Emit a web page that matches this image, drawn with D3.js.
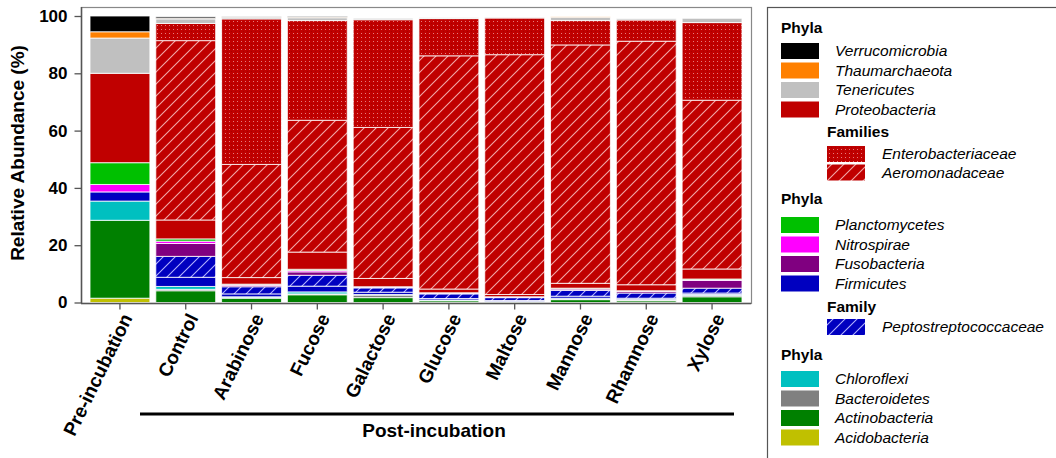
<!DOCTYPE html>
<html>
<head>
<meta charset="utf-8">
<script src="https://cdn.jsdelivr.net/npm/d3@7"></script>
<style>
  body { margin: 0; background: #fff; }
  text { font-family: "Liberation Sans", Arial, sans-serif; }
</style>
</head>
<body>
<div id="chart"></div>
<script>
const svgWidth = 1056;
const svgHeight = 458;

// samples on the x axis
const samples = ["Pre-incubation", "Control", "Arabinose", "Fucose", "Galactose",
    "Glucose", "Maltose", "Mannose", "Rhamnose", "Xylose"];

// relative abundance (%), one value per sample, stacked bottom -> top
const acidobacteria     = [1.5, 0, 0, 0, 0, 0, 0, 0, 0, 0];
const actinobacteria    = [27.2, 4.1, 1.5, 2.7, 1.7, 0.6, 0.2, 1.0, 0.6, 2.0];
const bacteroidetes     = [0, 0.5, 0.3, 0.3, 0.9, 0.2, 0.1, 0.3, 0.3, 0.5];
const chloroflexi       = [6.7, 1.0, 0.2, 0.7, 0.2, 0.1, 0.1, 0.2, 0.2, 0.3];
const firmicutes        = [3.2, 3.2, 1.0, 2.0, 0.8, 0.5, 0.3, 0.7, 0.4, 0.5];
const peptostrepto      = [0, 7.3, 2.5, 3.8, 1.5, 1.6, 1.0, 2.0, 1.8, 1.7];
const fusobacteria      = [0, 4.5, 0.5, 1.2, 0.2, 0.2, 0.1, 0.5, 0.6, 2.7];
const nitrospirae       = [2.6, 0.8, 0.2, 0.5, 0.1, 0.1, 0.1, 0.1, 0.1, 0.2];
const planctomycetes    = [7.6, 0.8, 0.2, 0.4, 0.1, 0.1, 0.1, 0.2, 0.1, 0.3];
const proteobacteria    = [31.2, 6.6, 2.3, 6.0, 2.9, 1.3, 0.8, 1.7, 2.1, 3.5];
const aeromonadaceae    = [0, 62.6, 39.5, 46.0, 52.7, 81.4, 83.7, 83.2, 85.0, 58.9];
const enterobacteriaceae = [0, 6.0, 50.8, 34.8, 37.6, 13.0, 12.8, 8.5, 7.4, 27.1];
const tenericutes       = [12.3, 1.6, 0.5, 1.0, 0.5, 0.3, 0.3, 1.2, 0.5, 1.5];
const thaumarchaeota    = [2.2, 0.2, 0.1, 0.2, 0, 0, 0, 0.1, 0, 0];
const verrucomicrobia   = [5.5, 0.5, 0.1, 0.3, 0, 0, 0, 0, 0, 0];

const yTicks = [0, 20, 40, 60, 80, 100];

const layers = [
    {key: "Acidobacteria", values: acidobacteria, fill: "#C0C000"},
    {key: "Actinobacteria", values: actinobacteria, fill: "#008000"},
    {key: "Bacteroidetes", values: bacteroidetes, fill: "#808080"},
    {key: "Chloroflexi", values: chloroflexi, fill: "#00C0C0"},
    {key: "Firmicutes", values: firmicutes, fill: "#0000C0"},
    {key: "Peptostreptococcaceae", values: peptostrepto, fill: "url(#hatchBlue)"},
    {key: "Fusobacteria", values: fusobacteria, fill: "#800080"},
    {key: "Nitrospirae", values: nitrospirae, fill: "#FF00FF"},
    {key: "Planctomycetes", values: planctomycetes, fill: "#00C000"},
    {key: "Proteobacteria", values: proteobacteria, fill: "#C00000"},
    {key: "Aeromonadaceae", values: aeromonadaceae, fill: "url(#hatchRed)"},
    {key: "Enterobacteriaceae", values: enterobacteriaceae, fill: "url(#dotRed)"},
    {key: "Tenericutes", values: tenericutes, fill: "#C0C0C0"},
    {key: "Thaumarchaeota", values: thaumarchaeota, fill: "#FF8000"},
    {key: "Verrucomicrobia", values: verrucomicrobia, fill: "#000000"}
];
const fillOf = {};
layers.forEach(l => fillOf[l.key] = l.fill);

const table = samples.map((s, i) => {
    const row = {sample: s};
    layers.forEach(l => row[l.key] = l.values[i]);
    return row;
});

const svg = d3.select('#chart')
    .append('svg')
    .attr('width', svgWidth)
    .attr('height', svgHeight);

// patterns
const defs = svg.append('defs');
const hatchRed = defs.append('pattern')
    .attr('id', 'hatchRed').attr('patternUnits', 'userSpaceOnUse')
    .attr('width', 12).attr('height', 12);
hatchRed.append('rect').attr('width', 12).attr('height', 12).attr('fill', '#C00000');
hatchRed.append('path').attr('d', 'M-3,3 L3,-3 M0,12 L12,0 M9,15 L15,9')
    .attr('stroke', '#f2a8a8').attr('stroke-width', 1.1);

const hatchBlue = defs.append('pattern')
    .attr('id', 'hatchBlue').attr('patternUnits', 'userSpaceOnUse')
    .attr('width', 12).attr('height', 12);
hatchBlue.append('rect').attr('width', 12).attr('height', 12).attr('fill', '#0000C0');
hatchBlue.append('path').attr('d', 'M-3,3 L3,-3 M0,12 L12,0 M9,15 L15,9')
    .attr('stroke', '#b0b0ff').attr('stroke-width', 1.1);

const dotRed = defs.append('pattern')
    .attr('id', 'dotRed').attr('patternUnits', 'userSpaceOnUse')
    .attr('width', 4).attr('height', 4);
dotRed.append('rect').attr('width', 4).attr('height', 4).attr('fill', '#C00000');
dotRed.append('rect').attr('x', 1).attr('y', 1).attr('width', 1).attr('height', 1).attr('fill', '#e67c7c');
dotRed.append('rect').attr('x', 3).attr('y', 3).attr('width', 1).attr('height', 1).attr('fill', '#a80000');

// scales
const plot = {left: 81, right: 751, top: 7, bottom: 303};
const x = d3.scaleBand().domain(samples)
    .range([plot.left, plot.right]).paddingInner(0.09).paddingOuter(0.137);
const y = d3.scaleLinear().domain([0, 100]).range([302.5, 16]);

// frame
svg.append('rect')
    .attr('x', plot.left + 0.5).attr('y', plot.top + 0.5)
    .attr('width', plot.right - plot.left).attr('height', plot.bottom - plot.top)
    .attr('fill', 'none').attr('stroke', '#888').attr('stroke-width', 1.2);

// bars
const stack = d3.stack().keys(layers.map(l => l.key));
const series = stack(table);

svg.append('g').selectAll('g')
    .data(series)
    .join('g')
    .attr('fill', d => fillOf[d.key])
    .selectAll('rect')
    .data(d => d)
    .join('rect')
    .attr('x', d => x(d.data.sample))
    .attr('width', x.bandwidth())
    .attr('y', d => y(d[1]))
    .attr('height', d => Math.max(0, y(d[0]) - y(d[1])))
    .attr('stroke', '#fff')
    .attr('stroke-opacity', 0.8)
    .attr('stroke-width', 1);

// axes
const yAxis = svg.append('g')
    .attr('transform', `translate(${plot.left + 0.5},0)`)
    .call(d3.axisLeft(y).tickValues(yTicks).tickSize(7).tickPadding(7));
yAxis.select('.domain').attr('stroke', '#555').attr('stroke-width', 1.5)
    .attr('d', `M0,${plot.top}V${plot.bottom}`);
yAxis.selectAll('.tick line').attr('stroke', '#555').attr('stroke-width', 1.3);
yAxis.selectAll('.tick text')
    .attr('font-size', 17).attr('font-weight', 'bold').attr('fill', '#000')
    .attr('font-family', '"Liberation Sans", Arial, sans-serif');

const xAxis = svg.append('g')
    .attr('transform', `translate(0,${plot.bottom + 0.5})`)
    .call(d3.axisBottom(x).tickSize(6).tickPadding(4));
xAxis.select('.domain').attr('stroke', '#555').attr('stroke-width', 1.5)
    .attr('d', `M${plot.left},0H${plot.right}`);
xAxis.selectAll('.tick line').attr('stroke', '#555').attr('stroke-width', 1.3);
xAxis.selectAll('.tick text')
    .attr('font-size', 19).attr('font-weight', 'bold').attr('fill', '#000')
    .attr('font-family', '"Liberation Sans", Arial, sans-serif')
    .attr('text-anchor', 'end')
    .attr('dy', '0.35em')
    .attr('transform', 'translate(-2,7) rotate(-64)');

// y title
svg.append('text')
    .attr('transform', 'translate(24,153) rotate(-90)')
    .attr('text-anchor', 'middle')
    .attr('font-size', 19).attr('font-weight', 'bold')
    .text('Relative Abundance (%)');

// post-incubation bracket
svg.append('line')
    .attr('x1', 140).attr('x2', 734)
    .attr('y1', 414).attr('y2', 414)
    .attr('stroke', '#000').attr('stroke-width', 3);
svg.append('text')
    .attr('x', 434).attr('y', 437)
    .attr('text-anchor', 'middle')
    .attr('font-size', 19).attr('font-weight', 'bold')
    .text('Post-incubation');

// legend
const legend = svg.append('g');
legend.append('rect')
    .attr('x', 767.5).attr('y', 7.5).attr('width', 320).attr('height', 470)
    .attr('fill', 'none').attr('stroke', '#555').attr('stroke-width', 1.2);

const legendRows = [
    {type: 'head', text: 'Phyla', x: 781, y: 28},
    {type: 'item', key: 'Verrucomicrobia', x: 781, y: 43},
    {type: 'item', key: 'Thaumarchaeota', x: 781, y: 62.5},
    {type: 'item', key: 'Tenericutes', x: 781, y: 82},
    {type: 'item', key: 'Proteobacteria', x: 781, y: 101.5},
    {type: 'head', text: 'Families', x: 827, y: 132},
    {type: 'item', key: 'Enterobacteriaceae', x: 827, y: 146},
    {type: 'item', key: 'Aeromonadaceae', x: 827, y: 164.5},
    {type: 'head', text: 'Phyla', x: 781, y: 199},
    {type: 'item', key: 'Planctomycetes', x: 781, y: 217},
    {type: 'item', key: 'Nitrospirae', x: 781, y: 236.5},
    {type: 'item', key: 'Fusobacteria', x: 781, y: 256},
    {type: 'item', key: 'Firmicutes', x: 781, y: 275.5},
    {type: 'head', text: 'Family', x: 827, y: 307},
    {type: 'item', key: 'Peptostreptococcaceae', x: 827, y: 319},
    {type: 'head', text: 'Phyla', x: 781, y: 355},
    {type: 'item', key: 'Chloroflexi', x: 781, y: 371},
    {type: 'item', key: 'Bacteroidetes', x: 781, y: 390.5},
    {type: 'item', key: 'Actinobacteria', x: 781, y: 410},
    {type: 'item', key: 'Acidobacteria', x: 781, y: 429.5}
];

legendRows.forEach(r => {
    if (r.type === 'head') {
        legend.append('text')
            .attr('x', r.x).attr('y', r.y).attr('dy', '0.35em')
            .attr('font-size', 15.5).attr('font-weight', 'bold')
            .text(r.text);
    } else {
        legend.append('rect')
            .attr('x', r.x).attr('y', r.y).attr('width', 38).attr('height', 16)
            .attr('fill', fillOf[r.key]);
        legend.append('text')
            .attr('x', r.x + (r.x === 827 ? 55 : 54)).attr('y', r.y + 8).attr('dy', '0.35em')
            .attr('font-size', 15.5).attr('font-style', 'italic')
            .text(r.key);
    }
});
</script>
</body>
</html>
